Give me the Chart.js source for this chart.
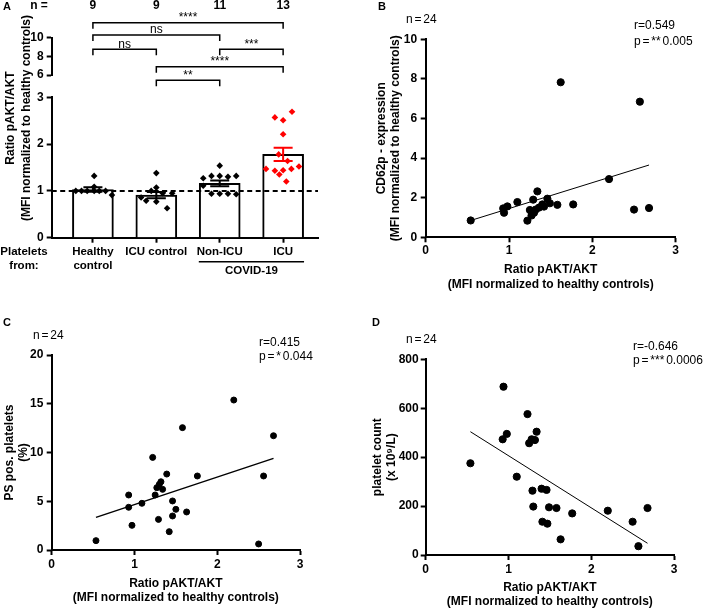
<!DOCTYPE html>
<html>
<head>
<meta charset="utf-8">
<script src="https://cdn.jsdelivr.net/npm/chart.js@4.4.1/dist/chart.umd.min.js"></script>
<style>
  html, body { margin: 0; padding: 0; background: #fff; }
  #wrap { position: relative; width: 707px; height: 610px; overflow: hidden;
          font-family: 'Liberation Sans', Arial, sans-serif; color: #000; }
  canvas { position: absolute; }
  .t { position: absolute; white-space: nowrap; font-size: 12px; line-height: 14px; }
  .b { font-weight: bold; }
  .s { word-spacing: -1.5px; }
  .letter { font-weight: bold; font-size: 11px; }
</style>
</head>
<body>
<div id="wrap">
  <canvas id="chartA1" width="330" height="90" style="left:0px;top:0px"></canvas>
  <canvas id="chartA2" width="330" height="205" style="left:0px;top:85px"></canvas>
  <canvas id="chartB" width="347" height="300" style="left:360px;top:0px"></canvas>
  <canvas id="chartC" width="350" height="305" style="left:0px;top:305px"></canvas>
  <canvas id="chartD" width="347" height="305" style="left:360px;top:305px"></canvas>

  <div class="t letter" style="left:3px;top:-1px">A</div>
  <div class="t letter" style="left:378px;top:-1px">B</div>
  <div class="t letter" style="left:3px;top:315px">C</div>
  <div class="t letter" style="left:372px;top:315px">D</div>

  <div class="t b" style="left:-102px;top:102px;width:240px;text-align:center;line-height:16px;transform:rotate(-90deg)">Ratio pAKT/AKT<br>(MFI normalized to healthy controls)</div>
  <div class="t b" style="left:0px;top:244px;width:48px;text-align:center;font-size:11.5px;line-height:14.4px">Platelets<br>from:</div>

  <div class="t s" style="left:406px;top:12px">n = 24</div>
  <div class="t s" style="left:634px;top:18px;line-height:15.5px">r=0.549<br>p = ** 0.005</div>

  <div class="t s" style="left:33px;top:328px">n = 24</div>
  <div class="t s" style="left:259px;top:335px">r=0.415<br>p = * 0.044</div>

  <div class="t s" style="left:406px;top:332px">n = 24</div>
  <div class="t s" style="left:633px;top:340px;line-height:13.5px">r=-0.646<br>p = *** 0.0006</div>
</div>
<script>
// ---- panel A: pAKT/AKT ratio per group ----
const groupLabels = [['Healthy', 'control'], 'ICU control', 'Non-ICU', 'ICU'];
const nCounts = [9, 9, 11, 13];
const groupMeans = [1.03, 0.91, 1.16, 1.78];
const groupSem = [0.05, 0.065, 0.06, 0.14];
const groupColors = ['#000', '#000', '#000', '#ff0000'];
const refValue = 1;
const covidGroups = [2, 3];

// individual points: horizontal jitter (category units) and value
const healthyX = [-0.27, -0.18, -0.09, 0.02, 0.10, 0.20, 0.02, 0.02, 0.30];
const healthyY = [1.00, 1.00, 1.00, 1.00, 1.00, 1.00, 1.32, 1.09, 0.91];
const icuCtrlX = [0, 0, -0.08, -0.24, -0.16, 0.10, 0.25, 0, 0.17];
const icuCtrlY = [1.38, 1.07, 1.00, 0.86, 0.79, 0.95, 0.95, 0.77, 0.63];
const nonIcuX = [0, -0.13, 0, 0.13, 0.26, -0.26, -0.26, -0.13, 0, 0.13, 0.26];
const nonIcuY = [1.54, 1.32, 1.32, 1.30, 1.32, 1.27, 1.11, 0.94, 0.94, 0.94, 0.93];
const icuX = [-0.13, 0, 0.14, 0, -0.07, 0.07, -0.27, -0.13, -0.06, 0, 0.13, 0.25, 0.05];
const icuY = [2.57, 2.51, 2.69, 2.21, 1.78, 1.64, 1.47, 1.43, 1.35, 1.44, 1.47, 1.52, 1.20];

// significance brackets (group index from/to, level on the upper axis)
const bracketFrom = [0, 0, 0, 2, 1, 1];
const bracketTo = [3, 2, 1, 3, 3, 2];
const bracketLevel = [11.6, 10.29, 8.76, 8.76, 6.89, 5.43];
const bracketText = ['****', 'ns', 'ns', '***', '****', '**'];

const upperTicksA = [6, 8, 10];
const lowerTicksA = [0, 1, 2, 3];
const xMinA = -0.65, xMaxA = 3.55;

// ---- panels B-D: correlations with pAKT/AKT ratio ----
const xTicks = [0, 1, 2, 3];
const ratioB = [0.54, 0.93, 0.94, 0.98, 1.10, 1.22, 1.25, 1.27, 1.29, 1.30, 1.32, 1.34, 1.36, 1.40, 1.42, 1.46, 1.49, 1.58, 1.62, 1.77, 2.20, 2.50, 2.57, 2.68];
const cd62p = [0.85, 1.46, 1.24, 1.56, 1.78, 0.84, 1.38, 1.10, 1.90, 1.24, 1.40, 2.32, 1.50, 1.66, 1.55, 1.95, 1.72, 1.64, 7.83, 1.66, 2.94, 1.40, 6.85, 1.48];
const fitBx = [0.54, 2.68];
const fitBy = [0.85, 3.65];
const yTicksB = [0, 2, 4, 6, 8, 10];

const ratioC = [0.535, 0.93, 0.93, 0.97, 1.09, 1.22, 1.25, 1.27, 1.29, 1.30, 1.32, 1.34, 1.39, 1.42, 1.46, 1.46, 1.50, 1.58, 1.63, 1.76, 2.20, 2.50, 2.56, 2.68];
const psPos = [0.96, 4.38, 5.64, 2.53, 4.79, 9.5, 5.64, 6.39, 3.14, 6.73, 7.0, 6.22, 7.79, 1.88, 5.03, 3.49, 4.17, 12.55, 3.9, 7.59, 15.38, 0.62, 7.59, 11.72];
const fitCx = [0.535, 2.68];
const fitCy = [3.35, 9.40];
const yTicksC = [0, 5, 10, 15, 20];

const ratioD = [0.54, 0.93, 0.94, 0.98, 1.10, 1.23, 1.25, 1.28, 1.29, 1.30, 1.32, 1.34, 1.40, 1.41, 1.46, 1.47, 1.49, 1.58, 1.63, 1.77, 2.20, 2.50, 2.57, 2.68];
const plateletCount = [375, 473, 688, 495, 320, 576, 457, 473, 263, 198, 470, 504, 271, 136, 266, 128, 195, 192, 64, 170, 181, 136, 36, 192];
const fitDx = [0.54, 2.68];
const fitDy = [504, 48];
const yTicksD = [0, 200, 400, 600, 800];

const xTitle = ['Ratio pAKT/AKT', '(MFI normalized to healthy controls)'];

Chart.defaults.font.family = "'Liberation Sans', Arial, sans-serif";
Chart.defaults.color = '#000';

const pairs = (xs, ys) => xs.map((x, i) => ({ x: x, y: ys[i] }));
const boldFont = { size: 12, weight: 'bold', lineHeight: 1.2 };
const axisGrid = { drawOnChartArea: false, tickLength: 5, tickWidth: 2, color: '#000' };
const axisBorder = { color: '#000', width: 2 };

// ---------- A upper (broken axis part + brackets) ----------
const bracketPlugin = {
    id: 'brackets',
    afterDatasetsDraw(chart) {
        const { ctx, chartArea, scales: { x, y } } = chart;
        ctx.save();
        ctx.fillStyle = '#000';
        ctx.textAlign = 'center';
        ctx.font = "12px 'Liberation Sans'";
        ctx.textBaseline = 'alphabetic';
        bracketFrom.forEach((f, i) => {
            const xm = (x.getPixelForValue(f) + x.getPixelForValue(bracketTo[i])) / 2;
            ctx.fillText(bracketText[i], xm, y.getPixelForValue(bracketLevel[i]) - 1.5);
        });
        ctx.font = "bold 12px 'Liberation Sans'";
        ctx.textBaseline = 'middle';
        ctx.fillText('n =', chartArea.left - 12.7, 6);
        nCounts.forEach((n, i) => ctx.fillText(String(n), x.getPixelForValue(i), 6));
        ctx.restore();
    }
};

const drop = 0.64;
new Chart(document.getElementById('chartA1'), {
    type: 'scatter',
    data: {
        datasets: bracketFrom.map((f, i) => ({
            data: [
                { x: f, y: bracketLevel[i] - drop },
                { x: f, y: bracketLevel[i] },
                { x: bracketTo[i], y: bracketLevel[i] },
                { x: bracketTo[i], y: bracketLevel[i] - drop }
            ],
            showLine: true,
            borderColor: '#000',
            borderWidth: 1.5,
            pointRadius: 0,
            clip: false
        }))
    },
    options: {
        responsive: false,
        animation: false,
        devicePixelRatio: 1,
        layout: { padding: { left: 0, top: 37.7, right: 12, bottom: 15 } },
        plugins: { legend: { display: false }, tooltip: { enabled: false } },
        scales: {
            x: { type: 'linear', display: false, min: xMinA, max: xMaxA },
            y: {
                min: 6, max: 10,
                afterBuildTicks: s => { s.ticks = upperTicksA.map(v => ({ value: v })); },
                border: axisBorder,
                grid: axisGrid,
                ticks: { color: '#000', font: boldFont, padding: 3 },
                afterFit: s => { s.width = 51.7; }
            }
        }
    },
    plugins: [bracketPlugin]
});

// ---------- A lower (bars) ----------
const errorBarPlugin = {
    id: 'errorBars',
    afterDatasetsDraw(chart) {
        const { ctx, scales: { x, y } } = chart;
        const half = x.getPixelForValue(0.15) - x.getPixelForValue(0);
        ctx.save();
        ctx.lineWidth = 2;
        groupMeans.forEach((m, i) => {
            const px = x.getPixelForValue(i);
            const top = y.getPixelForValue(m + groupSem[i]);
            const bot = y.getPixelForValue(m - groupSem[i]);
            ctx.strokeStyle = groupColors[i];
            ctx.beginPath();
            ctx.moveTo(px, top); ctx.lineTo(px, bot);
            ctx.moveTo(px - half, top); ctx.lineTo(px + half, top);
            ctx.moveTo(px - half, bot); ctx.lineTo(px + half, bot);
            ctx.stroke();
        });
        ctx.restore();
    },
    afterDraw(chart) {
        // COVID-19 grouping line under the last two categories
        const { ctx, chartArea, scales: { x } } = chart;
        const x1 = x.getPixelForValue(covidGroups[0] - 0.33);
        const x2 = x.getPixelForValue(covidGroups[1] + 0.33);
        ctx.save();
        ctx.strokeStyle = '#000';
        ctx.lineWidth = 1.5;
        ctx.beginPath();
        ctx.moveTo(x1, chartArea.bottom + 24);
        ctx.lineTo(x2, chartArea.bottom + 24);
        ctx.stroke();
        ctx.fillStyle = '#000';
        ctx.font = "bold 11.5px 'Liberation Sans'";
        ctx.textAlign = 'center';
        ctx.textBaseline = 'middle';
        ctx.fillText('COVID-19', (x1 + x2) / 2, chartArea.bottom + 33);
        ctx.restore();
    }
};

const groupPoints = [
    pairs(healthyX.map(d => 0 + d), healthyY),
    pairs(icuCtrlX.map(d => 1 + d), icuCtrlY),
    pairs(nonIcuX.map(d => 2 + d), nonIcuY),
    pairs(icuX.map(d => 3 + d), icuY)
];

new Chart(document.getElementById('chartA2'), {
    type: 'bar',
    data: {
        datasets: [
            ...groupPoints.map((pts, i) => ({
                type: 'scatter',
                data: pts,
                pointStyle: 'rectRot',
                pointRadius: 3.3,
                backgroundColor: groupColors[i],
                borderColor: groupColors[i],
                borderWidth: 0,
                order: 0
            })),
            {
                type: 'scatter',
                data: [{ x: xMinA, y: refValue }, { x: xMaxA, y: refValue }],
                showLine: true,
                borderColor: '#000',
                borderWidth: 2,
                borderDash: [5, 3.5],
                pointRadius: 0,
                order: 1
            },
            {
                type: 'bar',
                data: groupMeans.map((m, i) => ({ x: i, y: m })),
                backgroundColor: '#fff',
                borderColor: '#000',
                borderWidth: 2,
                barThickness: 41,
                order: 2
            }
        ]
    },
    options: {
        responsive: false,
        animation: false,
        devicePixelRatio: 1,
        layout: { padding: { left: 0, top: 12.3, right: 12, bottom: 0 } },
        plugins: { legend: { display: false }, tooltip: { enabled: false } },
        scales: {
            x: {
                type: 'linear', min: xMinA, max: xMaxA, offset: false,
                afterBuildTicks: s => { s.ticks = groupLabels.map((l, i) => ({ value: i })); },
                border: axisBorder,
                grid: Object.assign({ offset: false }, axisGrid),
                ticks: {
                    color: '#000', font: { size: 11.5, weight: 'bold', lineHeight: 1.25 }, padding: 2,
                    autoSkip: false, maxRotation: 0, minRotation: 0,
                    callback: v => groupLabels[v]
                },
                afterFit: s => { s.height = 52.3; }
            },
            y: {
                min: 0, max: 3,
                afterBuildTicks: s => { s.ticks = lowerTicksA.map(v => ({ value: v })); },
                border: axisBorder,
                grid: axisGrid,
                ticks: { color: '#000', font: boldFont, padding: 3 },
                afterFit: s => { s.width = 51.7; }
            }
        }
    },
    plugins: [errorBarPlugin]
});

// ---------- B, C, D scatter panels ----------
function scatterPanel(id, o) {
    new Chart(document.getElementById(id), {
        type: 'scatter',
        data: {
            datasets: [
                {
                    data: o.points,
                    backgroundColor: '#000',
                    borderColor: '#000',
                    pointRadius: o.radius,
                    order: 0
                },
                {
                    data: o.fit,
                    showLine: true,
                    borderColor: '#000',
                    borderWidth: o.lineWidth,
                    pointRadius: 0,
                    order: 1
                }
            ]
        },
        options: {
            responsive: false,
            animation: false,
            devicePixelRatio: 1,
            layout: { padding: o.padding },
            plugins: { legend: { display: false }, tooltip: { enabled: false } },
            scales: {
                x: {
                    type: 'linear', min: 0, max: 3,
                    afterBuildTicks: s => { s.ticks = xTicks.map(v => ({ value: v })); },
                    border: axisBorder,
                    grid: axisGrid,
                    ticks: { color: '#000', font: boldFont, padding: o.xPad },
                    title: { display: true, text: xTitle, color: '#000', font: boldFont, padding: { top: 0, bottom: 0 } },
                    afterFit: s => { s.height = o.xHeight; }
                },
                y: {
                    min: o.yTicks[0], max: o.yTicks[o.yTicks.length - 1],
                    afterBuildTicks: s => { s.ticks = o.yTicks.map(v => ({ value: v })); },
                    border: axisBorder,
                    grid: axisGrid,
                    ticks: { color: '#000', font: boldFont, padding: o.yPad },
                    title: { display: true, text: o.yTitle, color: '#000', font: boldFont, padding: { top: o.yTitlePad, bottom: 0 } },
                    afterFit: s => { s.width = o.yWidth; }
                }
            }
        }
    });
}

scatterPanel('chartB', {
    points: pairs(ratioB, cd62p),
    fit: pairs(fitBx, fitBy),
    yTicks: yTicksB,
    yTitle: ['CD62p - expression', '(MFI normalized to healthy controls)'],
    radius: 3.6, lineWidth: 1,
    padding: { left: 0, top: 39.3, right: 31.3, bottom: 8.5 },
    xHeight: 54.2, yWidth: 65.7, xPad: 1, yPad: 3.5, yTitlePad: 14.4
});

scatterPanel('chartC', {
    points: pairs(ratioC, psPos),
    fit: pairs(fitCx, fitCy),
    yTicks: yTicksC,
    yTitle: ['PS pos. platelets', '(%)'],
    radius: 3, lineWidth: 1.5,
    padding: { left: 0, top: 50, right: 50, bottom: 4.8 },
    xHeight: 55.2, yWidth: 51.7, xPad: 2.8, yPad: 3.4, yTitlePad: 2.3
});

scatterPanel('chartD', {
    points: pairs(ratioD, plateletCount),
    fit: pairs(fitDx, fitDy),
    yTicks: yTicksD,
    yTitle: ['platelet count', '(x 10\u2079/L)'],
    radius: 3.6, lineWidth: 1,
    padding: { left: 0, top: 54.3, right: 33, bottom: 1.1 },
    xHeight: 53.9, yWidth: 65.7, xPad: 2.1, yPad: 2, yTitlePad: 10.4
});
</script>
</body>
</html>
